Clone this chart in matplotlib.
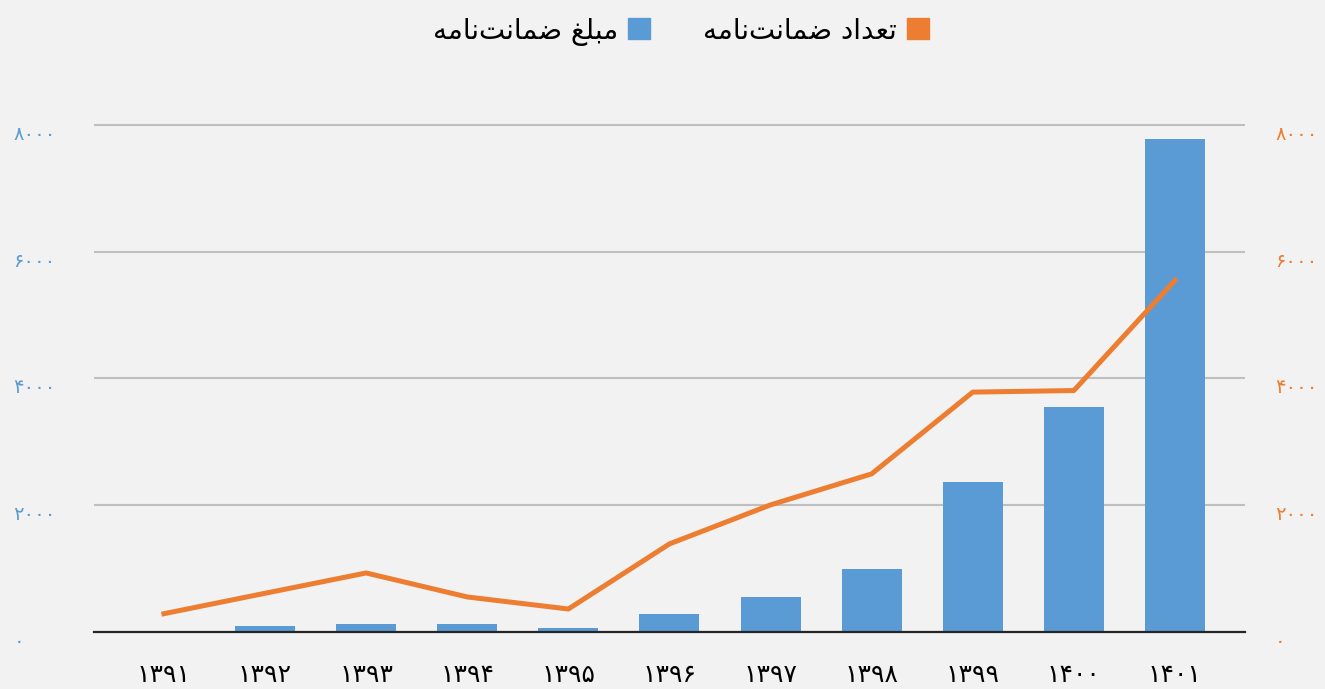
import numpy as np
import matplotlib
matplotlib.use('Agg')
import matplotlib.pyplot as plt
from matplotlib.patches import Patch

# data
years = [1391, 1392, 1393, 1394, 1395, 1396, 1397, 1398, 1399, 1400, 1401]
amount = [0, 95, 125, 125, 63, 290, 555, 995, 2370, 3555, 7780]      # bars, left axis
count = [293, 615, 935, 557, 367, 1393, 2008, 2497, 3785, 3810, 5546]  # line, right axis
yticks = [0, 2000, 4000, 6000, 8000]
label_amount = 'مبلغ ضمانت\u200cنامه'
label_count = 'تعداد ضمانت\u200cنامه'

blue = '#5b9bd5'
orange = '#ed7d31'
bg = '#f2f2f2'

fa = str.maketrans('0123456789', '۰۱۲۳۴۵۶۷۸۹')

# tiny persian shaper: isolated, final, initial, medial
FORMS = {
    'ا': ('\uFE8D', '\uFE8E', None, None),
    'د': ('\uFEA9', '\uFEAA', None, None),
    'ب': ('\uFE8F', '\uFE90', '\uFE91', '\uFE92'),
    'ت': ('\uFE95', '\uFE96', '\uFE97', '\uFE98'),
    'ض': ('\uFEBD', '\uFEBE', '\uFEBF', '\uFEC0'),
    'ع': ('\uFEC9', '\uFECA', '\uFECB', '\uFECC'),
    'غ': ('\uFECD', '\uFECE', '\uFECF', '\uFED0'),
    'ل': ('\uFEDD', '\uFEDE', '\uFEDF', '\uFEE0'),
    'م': ('\uFEE1', '\uFEE2', '\uFEE3', '\uFEE4'),
    'ن': ('\uFEE5', '\uFEE6', '\uFEE7', '\uFEE8'),
    'ه': ('\uFEE9', '\uFEEA', '\uFEEB', '\uFEEC'),
}


def shape(s):
    out = []
    for i, ch in enumerate(s):
        if ch not in FORMS:
            out.append(ch)
            continue
        prev = s[i - 1] if i > 0 else ''
        nxt = s[i + 1] if i + 1 < len(s) else ''
        jp = prev in FORMS and FORMS[prev][2] is not None
        jn = FORMS[ch][2] is not None and nxt in FORMS
        idx = 3 if (jp and jn) else 1 if jp else 2 if jn else 0
        out.append(FORMS[ch][idx])
    return ''.join(c for c in reversed(out) if c != '\u200c')


fig = plt.figure(figsize=(13.25, 6.89), dpi=100, facecolor=bg)
ax = fig.add_axes([0.0709, 0.0823, 0.8687, 0.7552])
ax.set_facecolor(bg)

x = np.arange(len(years))
ax.bar(x, amount, width=0.593, color=blue, zorder=2)
ax.set_xlim(-0.692, len(years) - 1 + 0.692)
ax.set_ylim(0, 8200)

ax.set_yticks(yticks)
ax.set_yticklabels([str(v).translate(fa) for v in yticks], color=blue, fontsize=14, ha='left', va='top')
ax.tick_params(axis='y', length=0, pad=58)
ax.set_xticks(x)
ax.set_xticklabels([str(y).translate(fa) for y in years], fontsize=18, color='black')
ax.tick_params(axis='x', length=0, pad=22)

for sp in ['top', 'left', 'right']:
    ax.spines[sp].set_visible(False)
ax.spines['bottom'].set_color('#262626')
ax.spines['bottom'].set_linewidth(1.6)
ax.yaxis.grid(True, color='#bfbfbf', linewidth=1.5)
ax.set_axisbelow(True)

ax2 = ax.twinx()
ax2.plot(x, count, color=orange, linewidth=3.6)
ax2.set_ylim(0, 8200)
ax2.set_yticks(yticks)
ax2.set_yticklabels([str(v).translate(fa) for v in yticks], color=orange, fontsize=14, va='top')
ax2.tick_params(axis='y', length=0, pad=21.6)
for sp in ax2.spines.values():
    sp.set_visible(False)

fig.legend(handles=[Patch(color=blue), Patch(color=orange)],
           labels=[shape(label_amount), shape(label_count)],
           loc='center', bbox_to_anchor=(0.514, 0.955), ncol=2, frameon=False,
           markerfirst=False, fontsize=20, handlelength=0.8, handleheight=0.8,
           columnspacing=1.9, handletextpad=0.35)

plt.savefig('out.png', dpi=100, facecolor=bg)
